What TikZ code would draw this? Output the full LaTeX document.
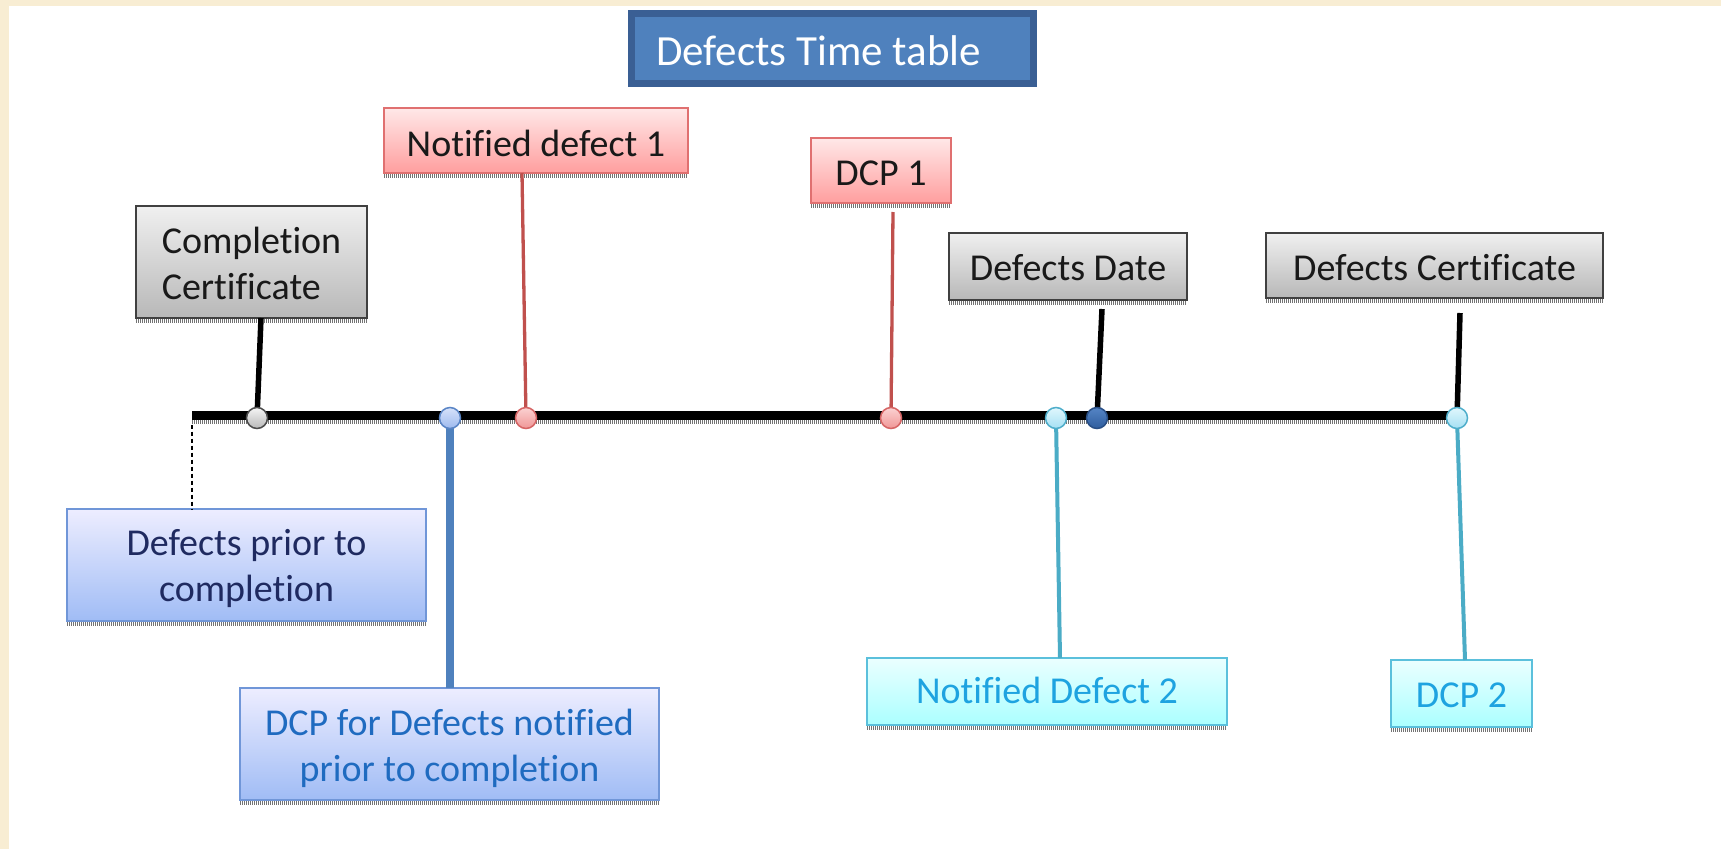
\documentclass[tikz,border=0pt]{standalone}
\usepackage{fontspec}
\setmainfont{Carlito}[Ligatures=NoCommon]
\usetikzlibrary{calc}

\definecolor{cream}{HTML}{F8EDD3}
\definecolor{titlefill}{HTML}{4F81BD}
\definecolor{titleline}{HTML}{3A5F94}
\definecolor{redline}{HTML}{E07070}
\definecolor{redstemc}{HTML}{C0504D}
\definecolor{blueline}{HTML}{7096D8}
\definecolor{bluestemc}{HTML}{4F81BD}
\definecolor{cyanline}{HTML}{5BC0DC}
\definecolor{cyanstemc}{HTML}{4BACC6}
\definecolor{navytext}{HTML}{1F2A60}
\definecolor{bluetext}{HTML}{1F6BC0}
\definecolor{cyantext}{HTML}{1EA3E0}

\tikzset{
  box/.style={rectangle, inner sep=0pt, outer sep=0pt, line width=1.5pt,
    font=\fontsize{38}{46}\selectfont, align=center, text depth=0pt},
  % baseline of the (last) line sits #1 below the box centre
  base at/.style={text height={2*(#1)*1pt}, text depth=0pt},
  graybox/.style={box, draw=black!75, top color=black!6, bottom color=black!28, text=black!90},
  redbox/.style={box, draw=redline, top color=red!9, bottom color=red!38, text=black!90},
  bluebox/.style={box, draw=blueline, top color=blue!7!white, bottom color={rgb,255:red,160;green,188;blue,245}},
  cyanbox/.style={box, draw=cyanline, top color=cyan!8, bottom color=cyan!33, text=cyantext},
  base shadow/.style={draw=black!55, line width=4pt, dash pattern=on 1pt off 1pt},
  blackstem/.style={draw=black, line width=5.5pt},
  redstem/.style={draw=redstemc, line width=3.3pt},
  bluestem/.style={draw=bluestemc, line width=7.5pt},
  cyanstem/.style={draw=cyanstemc, line width=4pt},
  dot/.style={circle, minimum size=21pt, inner sep=0pt, line width=1.5pt},
}

\begin{document}
\begin{tikzpicture}[x=1pt, y=-1pt]
\useasboundingbox (0,0) rectangle (1721,849);
\fill[cream] (0,0) rectangle (1721,849);
\fill[white] (9,6) rectangle (1721,849);

% title banner
\node[rectangle, inner sep=0pt, minimum width=402pt, minimum height=70pt,
      fill=titlefill, draw=titleline, line width=7pt, text=white,
      font=\fontsize{43}{50}\selectfont, base at=16.5] (title) at (832.5,48.5)
      {Defects Time table\hspace*{28pt}};

% event boxes above the time line
\node[redbox, minimum width=304pt, minimum height=65pt, base at=15.5] (nd1) at (536,140.5) {Notified defect 1};
\node[redbox, minimum width=140pt, minimum height=65pt, base at=14.5] (dcp1) at (881,170.5) {DCP 1};
\node[graybox, minimum width=231pt, minimum height=112pt, align=left, base at=37] (cc) at (251.5,262) {Completion\\Certificate};
\node[graybox, minimum width=238pt, minimum height=67pt, base at=13.5] (dd) at (1068,266.5) {Defects Date};
\node[graybox, minimum width=337pt, minimum height=65pt, base at=14.5] (dc) at (1434.5,265.5) {Defects Certificate};

% event boxes below the time line
\node[bluebox, text=navytext, minimum width=359pt, minimum height=112pt, base at=36] (dpc) at (246.5,565) {Defects prior to\\completion};
\node[bluebox, text=bluetext, minimum width=419pt, minimum height=112pt, base at=37] (dcpn) at (449.5,744) {DCP for Defects notified\\prior to completion};
\node[cyanbox, minimum width=360pt, minimum height=67pt, base at=12] (nd2) at (1047,691.5) {Notified Defect 2};
\node[cyanbox, minimum width=141pt, minimum height=67pt, base at=13.5] (dcp2) at (1461.5,693.5) {DCP 2};

% hatched shadows under the boxes
\foreach \n in {nd1,dcp1,cc,dd,dc,dpc,dcpn,nd2,dcp2}
  \draw[base shadow] ([yshift=-2.8pt]\n.south west) -- ([yshift=-2.8pt]\n.south east);

% time line and marker positions
\coordinate (tl0) at (192,415.5);
\coordinate (tl1) at (1458,415.5);
\coordinate (m1) at (257,418);
\coordinate (m2) at (450,418);
\coordinate (m3) at (526,418);
\coordinate (m4) at (891,418);
\coordinate (m5) at (1056,418);
\coordinate (m6) at (1097,418);
\coordinate (m7) at (1457,418);
\coordinate (dcp1top) at (893,212);
\coordinate (ddtop) at (1102,309);
\coordinate (dctop) at (1460,313);

\draw[base shadow] ($(tl0)+(0,6.5)$) -- ($(tl1)+(0,6.5)$);

% connectors
\draw[blackstem] ($(cc.south)+(9.5,0)$) -- (m1);
\draw[redstem] ($(nd1.south)+(-14,0)$) -- (m3);
\draw[redstem] (dcp1top) -- (m4);
\draw[blackstem] (ddtop) -- (m6);
\draw[blackstem] (dctop) -- (m7);
\draw[bluestem] (m2) -- (m2 |- dcpn.north);
\draw[cyanstem] (m5) -- ($(nd2.north)+(13,0)$);
\draw[cyanstem] (m7) -- ($(dcp2.north)+(3.5,0)$);
\draw[black, line width=1.3pt, dash pattern=on 4pt off 3pt] ($(tl0)+(0,9)$) -- (tl0 |- dpc.north);

\draw[black, line width=8.5pt] (tl0) -- (tl1);

% markers
\node[dot, draw=black!70, top color=black!4, bottom color=black!28] (d1) at (m1) {};
\node[dot, draw={rgb,255:red,90;green,133;blue,198}, top color={rgb,255:red,214;green,226;blue,250}, bottom color={rgb,255:red,157;green,185;blue,238}] (d2) at (m2) {};
\node[dot, draw={rgb,255:red,214;green,101;blue,101}, top color={rgb,255:red,251;green,210;blue,210}, bottom color={rgb,255:red,240;green,150;blue,150}] (d3) at (m3) {};
\node[dot, draw={rgb,255:red,214;green,101;blue,101}, top color={rgb,255:red,251;green,210;blue,210}, bottom color={rgb,255:red,240;green,150;blue,150}] (d4) at (m4) {};
\node[dot, draw={rgb,255:red,79;green,174;blue,203}, top color={rgb,255:red,224;green,247;blue,253}, bottom color={rgb,255:red,165;green,224;blue,243}] (d5) at (m5) {};
\node[dot, draw={rgb,255:red,41;green,79;blue,134}, top color={rgb,255:red,85;green,133;blue,197}, bottom color={rgb,255:red,47;green,93;blue,158}] (d6) at (m6) {};
\node[dot, draw={rgb,255:red,79;green,174;blue,203}, top color={rgb,255:red,224;green,247;blue,253}, bottom color={rgb,255:red,165;green,224;blue,243}] (d7) at (m7) {};
\end{tikzpicture}
\end{document}
